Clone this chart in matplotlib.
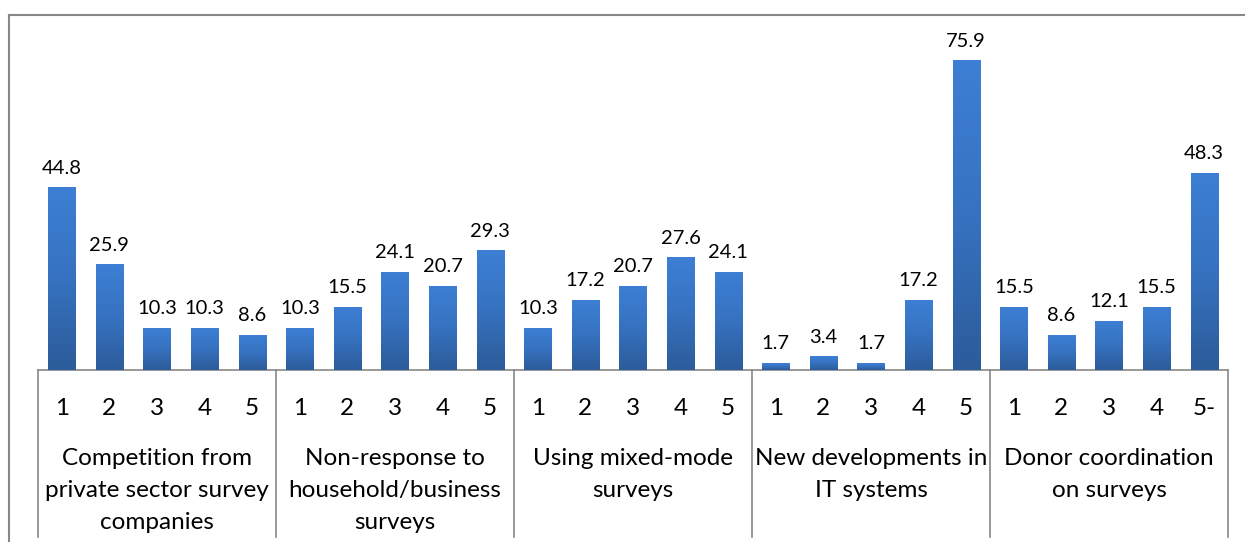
import matplotlib
matplotlib.use("Agg")
import matplotlib.pyplot as plt
import numpy as np
from matplotlib.lines import Line2D
from matplotlib.colors import LinearSegmentedColormap

groups = ["Competition from\nprivate sector survey\ncompanies",
          "Non-response to\nhousehold/business\nsurveys",
          "Using mixed-mode\nsurveys",
          "New developments in\nIT systems",
          "Donor coordination\non surveys"]
tick_labels = ["1", "2", "3", "4", "5"] * 4 + ["1", "2", "3", "4", "5-"]
values = [44.8, 25.9, 10.3, 10.3, 8.6,
          10.3, 15.5, 24.1, 20.7, 29.3,
          10.3, 17.2, 20.7, 27.6, 24.1,
          1.7, 3.4, 1.7, 17.2, 75.9,
          15.5, 8.6, 12.1, 15.5, 48.3]

plt.rcParams['font.family'] = ['Lato', 'DejaVu Sans']
W, H = 1245, 542
fig = plt.figure(figsize=(W / 100, H / 100), dpi=100)
ax_left, ax_right = 38 / W, 1228 / W
ax_bottom, ax_top = (H - 370) / H, (H - 15) / H
ax = fig.add_axes([ax_left, ax_bottom, ax_right - ax_left, ax_top - ax_bottom])

n = len(values)
x = np.arange(n)
bars = ax.bar(x, values, width=0.57, color="#3A76C4", edgecolor="none", zorder=2)

grad = np.linspace(0, 1, 100).reshape(-1, 1)
cmap = LinearSegmentedColormap.from_list("b", ["#2C5C9A", "#3672C0", "#3D7FD4"])
for b in bars:
    x0, y0 = b.get_x(), b.get_y()
    w, h = b.get_width(), b.get_height()
    im = ax.imshow(grad, cmap=cmap, aspect="auto", origin="lower",
                   extent=(x0, x0 + w, y0, y0 + h), zorder=3)
    im.set_clip_path(b)

for xi, v in zip(x, values):
    ax.text(xi, v + 2.6, f"{v}", ha="center", va="bottom", fontsize=14.5, color="#000000")

ax.set_xlim(-0.5, n - 0.5)
ax.set_ylim(0, 87)
for s in ["top", "right", "left"]:
    ax.spines[s].set_visible(False)
ax.spines["bottom"].set_color("#888888")
ax.spines["bottom"].set_linewidth(1.2)
ax.set_yticks([])
ax.set_xticks(x)
ax.set_xticklabels(tick_labels, fontsize=17.5)
ax.tick_params(axis="x", length=0, pad=20)

trans = ax.get_xaxis_transform()
bottom_y = (H - 537) / H
for k in range(len(groups) + 1):
    xb = k * 5 - 0.5
    xf = fig.transFigure.inverted().transform(ax.transData.transform((xb, 0)))[0]
    fig.add_artist(Line2D([xf, xf], [bottom_y, ax_bottom], color="#888888", lw=1.2))
for k, g in enumerate(groups):
    xc = k * 5 + 2
    ax.text(xc, -0.22, g, transform=trans, ha="center", va="top",
            fontsize=17.5, linespacing=1.64)

fig.add_artist(Line2D([9 / W, 9 / W], [0, (H - 15) / H], color="#888888", lw=1.5))
fig.add_artist(Line2D([9 / W, 1], [(H - 15) / H, (H - 15) / H], color="#888888", lw=1.5))

fig.savefig("out.png", dpi=100)
